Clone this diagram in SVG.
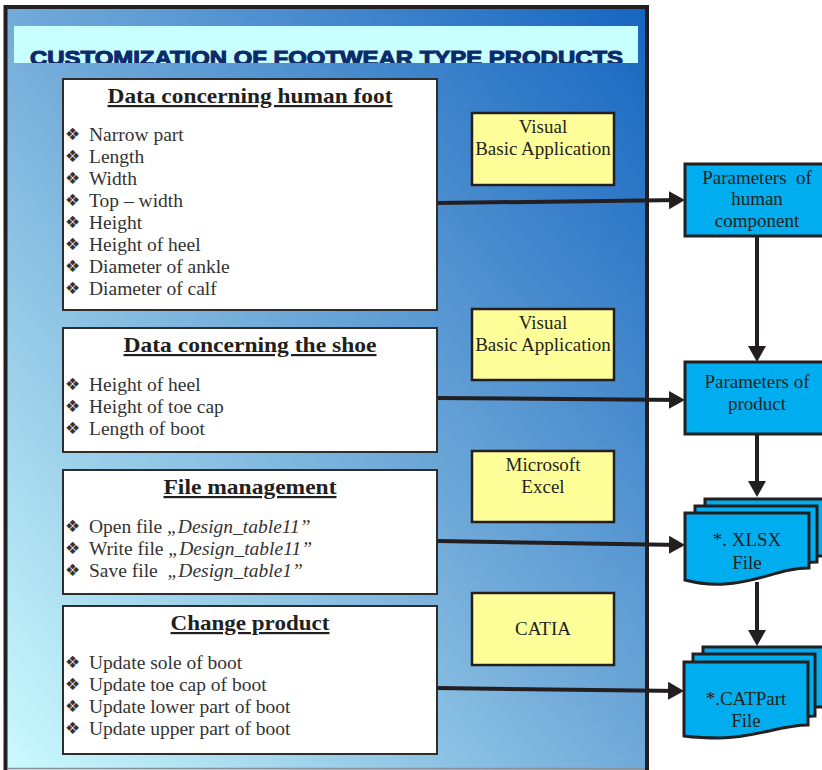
<svg xmlns="http://www.w3.org/2000/svg" width="822" height="770" viewBox="0 0 822 770">
<style>
.frame{fill:url(#bg);stroke:#231f20;stroke-width:4}
.wbox{fill:#ffffff;stroke:#2d2d2d;stroke-width:2}
.ybox{fill:#ffff99;stroke:#231f20;stroke-width:2.5}
.bbox{fill:#00aeef;stroke:#231f20;stroke-width:3}
.hd{font-family:"Liberation Serif",serif;font-weight:bold;font-size:22px;fill:#231f20;text-anchor:middle;text-decoration:underline}
.it{font-family:"Liberation Serif",serif;font-size:19.5px;fill:#333333}
.bl{font-family:"DejaVu Sans",sans-serif;font-size:17px;fill:#333333}
.lb{font-family:"Liberation Serif",serif;font-size:19px;fill:#231f20;text-anchor:middle}
.con{stroke:#231f20;stroke-width:4;fill:none;marker-end:url(#ah)}
.ttl{font-family:"Liberation Sans",Arial,sans-serif;font-weight:900;font-size:21px;fill:#0d2a6b;stroke:#0d2a6b;stroke-width:1.1}
</style>
<defs>
<linearGradient id="bg" x1="1" y1="0" x2="0" y2="1">
<stop offset="0" stop-color="#1565c0"/>
<stop offset="0.5" stop-color="#72abd9"/>
<stop offset="1" stop-color="#cdfcfe"/>
</linearGradient>
<marker id="ah" markerUnits="userSpaceOnUse" markerWidth="18" markerHeight="20" refX="12" refY="9" orient="auto" viewBox="0 0 18 18">
<path d="M0,0 L16,9 L0,18 Z" fill="#231f20"/>
</marker>
<clipPath id="tclip"><rect x="14" y="26" width="624" height="37"/></clipPath>
</defs>

<g id="frame">
<rect class="frame" x="5.5" y="7" width="641.5" height="775"/>
<line x1="7" y1="768.5" x2="645" y2="768.5" stroke="#8a8f96" stroke-width="1.5"/>
<rect x="14" y="26" width="624" height="37" fill="#c8ffff"/>
<text class="ttl" x="30" y="65" textLength="593" lengthAdjust="spacingAndGlyphs" clip-path="url(#tclip)">CUSTOMIZATION OF FOOTWEAR TYPE PRODUCTS</text>
</g>

<g id="connectors">
<line class="con" x1="437" y1="203" x2="681" y2="200"/>
<line class="con" x1="437" y1="398" x2="681" y2="400"/>
<line class="con" x1="437" y1="541" x2="681" y2="545"/>
<line class="con" x1="437" y1="688" x2="680" y2="691"/>
<line class="con" x1="757" y1="236" x2="757" y2="358"/>
<line class="con" x1="757" y1="434" x2="757" y2="493"/>
<line class="con" x1="757" y1="582" x2="757" y2="642"/>
</g>

<g id="box-foot">
<rect class="wbox" x="63" y="79" width="374" height="231"/>
<text class="hd" x="250" y="103" textLength="285" lengthAdjust="spacingAndGlyphs">Data concerning human foot</text>
<text class="bl" x="65" y="140">❖</text><text class="it" x="89" y="141">Narrow part</text>
<text class="bl" x="65" y="162">❖</text><text class="it" x="89" y="163">Length</text>
<text class="bl" x="65" y="184">❖</text><text class="it" x="89" y="185">Width</text>
<text class="bl" x="65" y="206">❖</text><text class="it" x="89" y="207">Top – width</text>
<text class="bl" x="65" y="228">❖</text><text class="it" x="89" y="229">Height</text>
<text class="bl" x="65" y="250">❖</text><text class="it" x="89" y="251">Height of heel</text>
<text class="bl" x="65" y="272">❖</text><text class="it" x="89" y="273">Diameter of ankle</text>
<text class="bl" x="65" y="294">❖</text><text class="it" x="89" y="295">Diameter of calf</text>
</g>

<g id="box-shoe">
<rect class="wbox" x="63" y="328" width="374" height="124"/>
<text class="hd" x="250" y="352" textLength="253" lengthAdjust="spacingAndGlyphs">Data concerning the shoe</text>
<text class="bl" x="65" y="390">❖</text><text class="it" x="89" y="391">Height of heel</text>
<text class="bl" x="65" y="412">❖</text><text class="it" x="89" y="413">Height of toe cap</text>
<text class="bl" x="65" y="434">❖</text><text class="it" x="89" y="435">Length of boot</text>
</g>

<g id="box-file">
<rect class="wbox" x="63" y="470" width="374" height="124"/>
<text class="hd" x="250" y="494" textLength="173" lengthAdjust="spacingAndGlyphs">File management</text>
<text class="bl" x="65" y="532">❖</text><text class="it" x="89" y="533">Open file <tspan font-style="italic">„Design_table11”</tspan></text>
<text class="bl" x="65" y="554">❖</text><text class="it" x="89" y="555">Write file <tspan font-style="italic">„Design_table11”</tspan></text>
<text class="bl" x="65" y="576">❖</text><text class="it" x="89" y="577" xml:space="preserve">Save file  <tspan font-style="italic">„Design_table1”</tspan></text>
</g>

<g id="box-change">
<rect class="wbox" x="63" y="606" width="374" height="148"/>
<text class="hd" x="250" y="630" textLength="159" lengthAdjust="spacingAndGlyphs">Change product</text>
<text class="bl" x="65" y="668">❖</text><text class="it" x="89" y="669">Update sole of boot</text>
<text class="bl" x="65" y="690">❖</text><text class="it" x="89" y="691">Update toe cap of boot</text>
<text class="bl" x="65" y="712">❖</text><text class="it" x="89" y="713">Update lower part of boot</text>
<text class="bl" x="65" y="734">❖</text><text class="it" x="89" y="735">Update upper part of boot</text>
</g>

<g id="tool-vba1">
<rect class="ybox" x="472" y="113" width="142" height="72"/>
<text class="lb" x="543" y="133">Visual</text>
<text class="lb" x="543" y="155">Basic Application</text>
</g>
<g id="tool-vba2">
<rect class="ybox" x="472" y="309" width="142" height="71"/>
<text class="lb" x="543" y="329">Visual</text>
<text class="lb" x="543" y="351">Basic Application</text>
</g>
<g id="tool-excel">
<rect class="ybox" x="472" y="451" width="142" height="71"/>
<text class="lb" x="543" y="471">Microsoft</text>
<text class="lb" x="543" y="493">Excel</text>
</g>
<g id="tool-catia">
<rect class="ybox" x="472" y="593" width="142" height="72"/>
<text class="lb" x="543" y="635">CATIA</text>
</g>

<g id="param-human">
<rect class="bbox" x="685" y="164" width="145" height="72"/>
<text class="lb" x="757" y="184" xml:space="preserve">Parameters  of</text>
<text class="lb" x="757" y="205">human</text>
<text class="lb" x="757" y="227">component</text>
</g>
<g id="param-product">
<rect class="bbox" x="685" y="362" width="145" height="72"/>
<text class="lb" x="757" y="388">Parameters of</text>
<text class="lb" x="757" y="410">product</text>
</g>

<g id="xlsx-file">
<path class="bbox" d="M705,499 H830 V556 H705 Z"/>
<path class="bbox" d="M695,506 H817 V562 C790,562 770,572 745,576 C725,579 708,576 695,572 Z"/>
<path class="bbox" d="M685,513 H809 V568 C780,568 760,582 725,584 C705,585 692,582 685,580 Z"/>
<text class="lb" x="747" y="546">*. XLSX</text>
<text class="lb" x="747" y="569">File</text>
</g>
<g id="catpart-file">
<path class="bbox" d="M703,647 H830 V707 H703 Z"/>
<path class="bbox" d="M693,654 H815 V716 C790,716 770,726 745,730 C725,732 705,730 693,727 Z"/>
<path class="bbox" d="M684,662 H808 V725 C780,725 755,738 720,738 C702,738 692,737 684,736 Z"/>
<text class="lb" x="746" y="705">*.CATPart</text>
<text class="lb" x="746" y="727">File</text>
</g>
</svg>
